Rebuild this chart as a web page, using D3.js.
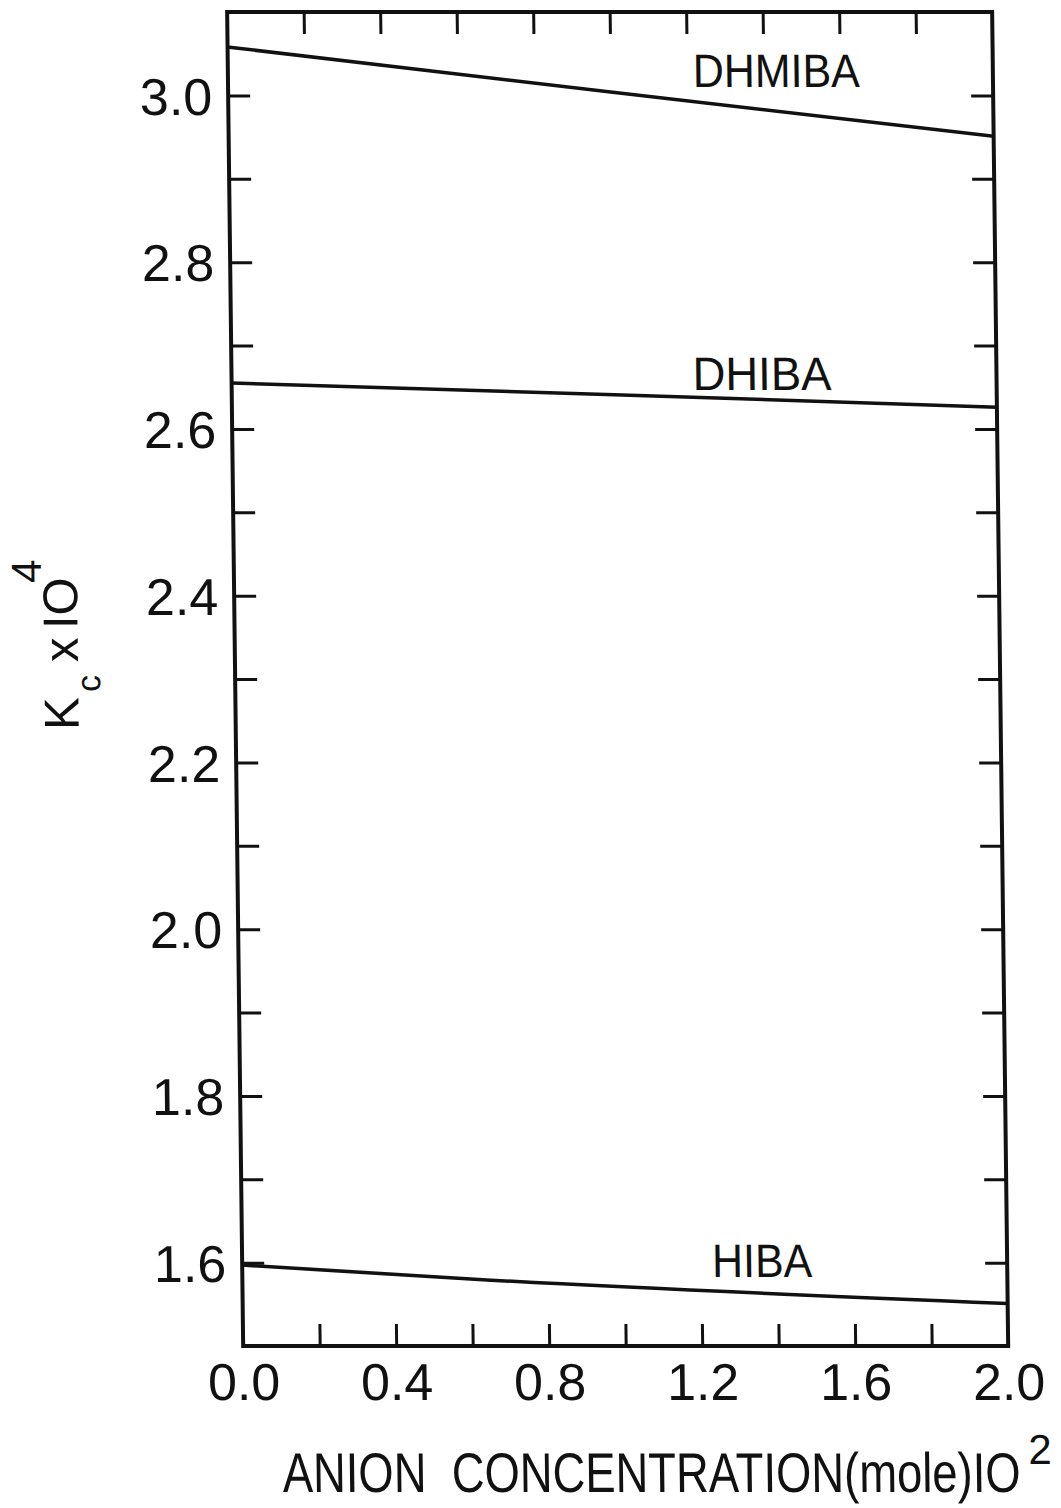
<!DOCTYPE html>
<html>
<head>
<meta charset="utf-8">
<script src="https://cdn.jsdelivr.net/npm/d3@7"></script>
<style>
  html, body { margin: 0; padding: 0; background: #fff; }
</style>
</head>
<body>
<div id="chart"></div>
<script>
// values
const concDHMIBA = [0.0, 1.0, 2.0];
const kcDHMIBA = [3.058, 3.004, 2.951];
const concDHIBA = [0.0, 1.0, 2.0];
const kcDHIBA = [2.655, 2.641, 2.626];
const concHIBA = [0.0, 0.65, 2.0];
const kcHIBA = [1.597, 1.579, 1.551];

const xTickValues = [0, 0.2, 0.4, 0.6, 0.8, 1.0, 1.2, 1.4, 1.6, 1.8, 2.0];
const xLabelValues = [0, 0.4, 0.8, 1.2, 1.6, 2.0];
const yTickValues = [1.6, 1.7, 1.8, 1.9, 2.0, 2.1, 2.2, 2.3, 2.4, 2.5, 2.6, 2.7, 2.8, 2.9, 3.0];
const yLabelValues = [1.6, 1.8, 2.0, 2.2, 2.4, 2.6, 2.8, 3.0];

function renderChart(containerSelector) {
  const W = 1061, H = 1508;
  const left = 227, right = 992, top = 12, bottom = 1346;
  const font = "'Liberation Sans', Arial, sans-serif";
  const ink = '#111';

  const svg = d3.select(containerSelector).append('svg')
    .attr('width', W).attr('height', H)
    .style('background', '#fff');

  // the scanned page is slightly sheared, so shear everything the same way
  const shear = Math.atan(16 / 1332) * 180 / Math.PI;
  const g = svg.append('g').attr('transform', `skewX(${shear})`);

  const x = d3.scaleLinear().domain([0, 2.0]).range([left, right]);
  const y = d3.scaleLinear().domain([1.5, 3.1]).range([bottom, top]);
  const tick = 22;

  // squeeze a text horizontally to a given width (the scan's lettering is condensed)
  function condensed(parent, tx, ty, width, size, str) {
    const t = parent.append('text')
      .attr('fill', ink)
      .style('font-family', font).style('font-size', size + 'px')
      .style('white-space', 'pre')
      .text(str);
    const natural = t.node().getComputedTextLength() || width;
    t.attr('transform', `translate(${tx},${ty}) scale(${width / natural},1)`);
    return t;
  }

  // Frame
  g.append('rect')
    .attr('x', left).attr('y', top)
    .attr('width', right - left).attr('height', bottom - top)
    .attr('fill', 'none').attr('stroke', ink).attr('stroke-width', 4);

  function styleAxis(sel) {
    sel.select('.domain').remove();
    sel.selectAll('line').attr('stroke', ink).attr('stroke-width', 3);
    sel.selectAll('text')
      .attr('fill', ink)
      .style('font-family', font)
      .style('font-size', '52px');
  }

  // Left axis with labels
  g.append('g')
    .attr('transform', `translate(${left},0)`)
    .call(d3.axisLeft(y).tickValues(yTickValues).tickSizeInner(-tick).tickSizeOuter(0).tickPadding(16)
      .tickFormat(d => yLabelValues.some(v => Math.abs(v - d) < 1e-6) ? d.toFixed(1) : ''))
    .call(styleAxis)
    .call(a => a.selectAll('text').attr('dy', '0.36em'));

  // Right axis, ticks only
  g.append('g')
    .attr('transform', `translate(${right},0)`)
    .call(d3.axisRight(y).tickValues(yTickValues).tickSizeInner(-tick).tickSizeOuter(0).tickFormat(''))
    .call(styleAxis);

  // Bottom axis with labels
  g.append('g')
    .attr('transform', `translate(0,${bottom})`)
    .call(d3.axisBottom(x).tickValues(xTickValues).tickSizeInner(-tick).tickSizeOuter(0).tickPadding(17)
      .tickFormat(d => xLabelValues.some(v => Math.abs(v - d) < 1e-6) ? d.toFixed(1) : ''))
    .call(styleAxis)
    .call(a => a.selectAll('.tick')
      .filter(d => d === 0 || d === 2.0).select('line').remove());

  // Top axis, ticks only
  g.append('g')
    .attr('transform', `translate(0,${top})`)
    .call(d3.axisTop(x).tickValues(xTickValues.slice(1, -1)).tickSizeInner(-tick).tickSizeOuter(0).tickFormat(''))
    .call(styleAxis);

  // Curves
  const series = [
    { name: 'DHMIBA', xs: concDHMIBA, ys: kcDHMIBA, lx: 692, ly: 87, lw: 167 },
    { name: 'DHIBA', xs: concDHIBA, ys: kcDHIBA, lx: 688, ly: 390, lw: 139 },
    { name: 'HIBA', xs: concHIBA, ys: kcHIBA, lx: 697, ly: 1277, lw: 100 },
  ];

  const line = d3.line().x(d => x(d[0])).y(d => y(d[1])).curve(d3.curveMonotoneX);

  series.forEach(s => {
    g.append('path')
      .datum(s.xs.map((c, i) => [c, s.ys[i]]))
      .attr('fill', 'none')
      .attr('stroke', ink)
      .attr('stroke-width', 3.5)
      .attr('d', line);

    condensed(g, s.lx, s.ly, s.lw, 47, s.name);
  });

  // Y axis title: Kc x IO^4
  const yt = g.append('text')
    .attr('transform', 'translate(70,730) rotate(-90)')
    .attr('fill', ink)
    .style('font-family', font).style('font-size', '49px');
  yt.append('tspan').attr('x', 0).attr('y', 0).text('K');
  yt.append('tspan').attr('x', 38).attr('y', 22).style('font-size', '34px').text('c');
  yt.append('tspan').attr('x', 68).attr('y', 0).text('x');
  yt.append('tspan').attr('x', 101).attr('y', 0).text('IO');
  yt.append('tspan').attr('x', 147).attr('y', -36).style('font-size', '42px').text('4');

  // X axis title
  condensed(g, 265, 1492, 738, 56, 'ANION  CONCENTRATION(mole)IO');
  g.append('text')
    .attr('x', 1011).attr('y', 1464)
    .attr('fill', ink)
    .style('font-family', font).style('font-size', '42px')
    .text('2');
}

renderChart('#chart');
</script>
</body>
</html>
